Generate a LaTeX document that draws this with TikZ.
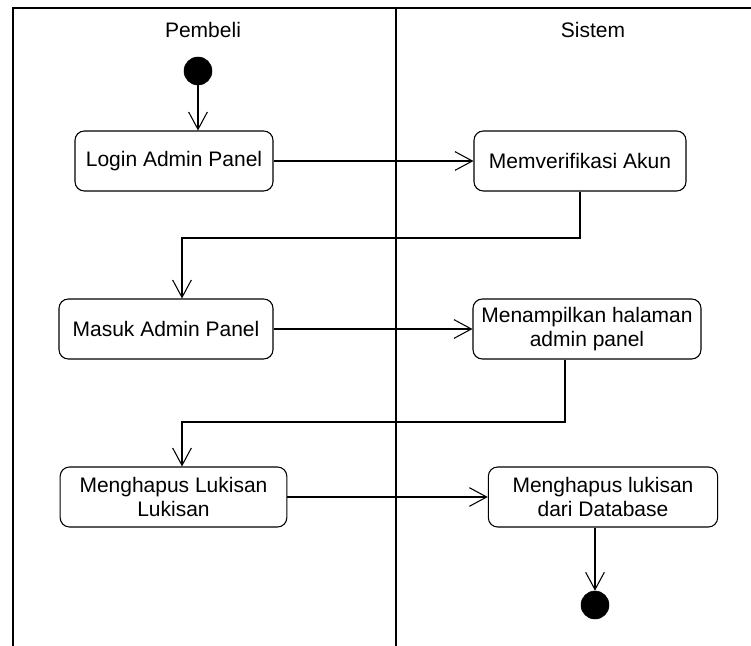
\documentclass[tikz,border=0pt]{standalone}
\usepackage{fontspec}
\setmainfont{Liberation Sans}
\usetikzlibrary{arrows.meta}

\begin{document}
\begin{tikzpicture}[x=0.75pt,y=-0.75pt,
		>={Straight Barb[length=13pt,width=14pt]},
		every node/.style={font=\fontsize{15.75}{18}\selectfont},
		act/.style={draw,rounded corners=7pt,minimum height=45pt,align=center,inner sep=2pt,line width=0.8pt},
		dot/.style={circle,draw,fill=black,minimum size=21pt,inner sep=0pt},
		flow/.style={->,line width=0.8pt}]

					\useasboundingbox (0,0) rectangle (751,646);

					% lanes
					\draw[line width=0.8pt] (13,646) -- (13,8) -- (751,8);
					\draw[line width=1.5pt] (396,8) -- (396,646);
					\node (pembeli) at (203,30) {Pembeli};
					\node (sistem) at (593,30) {Sistem};

					% activities
					\node[dot] (start) at (198,71) {};
					\node[act,minimum width=148.5pt] (login) at (174,161) {Login Admin Panel};
					\node[act,minimum width=159pt] (verif) at (580,161) {Memverifikasi Akun};
					\node[act,minimum width=160.5pt] (masuk) at (166,329) {Masuk Admin Panel};
					\node[act,minimum width=171pt] (tampil) at (587,329) {Menampilkan halaman\\admin panel};
					\node[act,minimum width=170pt] (hapus) at (173.5,497) {Menghapus Lukisan\\Lukisan};
					\node[act,minimum width=172pt] (hapusdb) at (603,497) {Menghapus lukisan\\dari Database};
					\node[dot] (end) at (595,605) {};

					\coordinate (b1) at (182,238);
					\coordinate (b2) at (565,422);
					\coordinate (b3) at (182,422);

					% flows
					\draw[flow] (start) -- (start |- login.north);
					\draw[flow] (login) -- (verif);
					\draw[flow] (verif.south) |- (b1) -- (b1 |- masuk.north);
					\draw[flow] (masuk) -- (tampil);
					\draw[flow] (tampil.south -| b2) -- (b2) -- (b3) -- (b3 |- hapus.north);
					\draw[flow] (hapus) -- (hapusdb);
					\draw[flow] (end |- hapusdb.south) -- (end);

				\end{tikzpicture}
\end{document}
